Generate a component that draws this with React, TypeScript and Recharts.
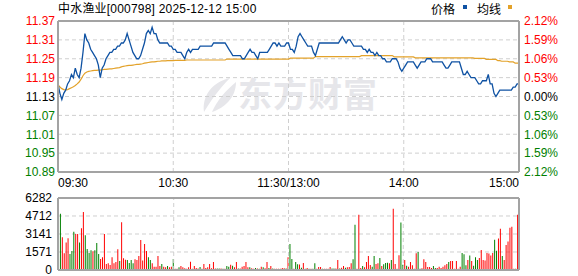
import React from 'react';
import { LineChart, Line, XAxis, YAxis, CartesianGrid, BarChart, Bar, Cell, ReferenceLine } from 'recharts';

const FONT = "'Liberation Sans', Arial, 'Noto Sans CJK SC', sans-serif";
const RED = '#ff0000';
const GREEN = '#008000';
const BORDER = '#a3a3a3';
const GRID = '#cfcfcf';
const PRICE_COLOR = '#0f52a3';
const AVG_COLOR = '#e3a22a';

const title = '中水渔业[000798] 2025-12-12 15:00';
const legendNames = ['价格', '均线'];
const prevClose = 11.13;

const timeTicks = [0, 60, 120, 180, 240];
const timeLabels = ['09:30', '10:30', '11:30/13:00', '14:00', '15:00'];
const priceTicks = [10.89, 10.95, 11.01, 11.07, 11.13, 11.19, 11.25, 11.31, 11.37];
const pctLabels = ['2.12%', '1.59%', '1.06%', '0.53%', '0.00%', '0.53%', '1.06%', '1.59%', '2.12%'];
const volTicks = [0, 1571, 3141, 4712, 6282];

const price = [
  11.17, 11.14, 11.12, 11.14, 11.15, 11.17, 11.18, 11.20, 11.19, 11.22,
  11.20, 11.19, 11.22, 11.27, 11.33, 11.31, 11.30, 11.28, 11.27, 11.26,
  11.25, 11.23, 11.19, 11.22, 11.23, 11.25, 11.26, 11.27, 11.27, 11.28,
  11.28, 11.29, 11.29, 11.30, 11.30, 11.31, 11.33, 11.31, 11.29, 11.27,
  11.26, 11.25, 11.25, 11.26, 11.28, 11.30, 11.33, 11.34, 11.33, 11.35,
  11.33, 11.33, 11.31, 11.30, 11.30, 11.30, 11.30, 11.30, 11.29, 11.29,
  11.28, 11.28, 11.27, 11.27, 11.27, 11.26, 11.25, 11.27, 11.28, 11.27,
  11.28, 11.28, 11.28, 11.28, 11.29, 11.29, 11.29, 11.29, 11.29, 11.29,
  11.29, 11.30, 11.30, 11.30, 11.30, 11.30, 11.30, 11.30, 11.29, 11.28,
  11.27, 11.26, 11.26, 11.26, 11.26, 11.26, 11.25, 11.25, 11.26, 11.27,
  11.28, 11.27, 11.27, 11.26, 11.25, 11.27, 11.27, 11.27, 11.27, 11.27,
  11.28, 11.29, 11.30, 11.30, 11.29, 11.30, 11.29, 11.29, 11.29, 11.30,
  11.30, 11.28, 11.28, 11.27, 11.29, 11.32, 11.33, 11.32, 11.31, 11.30,
  11.29, 11.29, 11.29, 11.27, 11.26, 11.28, 11.30, 11.30, 11.30, 11.30,
  11.30, 11.30, 11.30, 11.30, 11.30, 11.30, 11.30, 11.31, 11.32, 11.31,
  11.30, 11.31, 11.31, 11.30, 11.29, 11.29, 11.29, 11.29, 11.29, 11.28,
  11.28, 11.27, 11.28, 11.27, 11.27, 11.26, 11.27, 11.26, 11.26, 11.25,
  11.25, 11.24, 11.24, 11.24, 11.25, 11.25, 11.25, 11.24, 11.22, 11.21,
  11.22, 11.23, 11.24, 11.24, 11.24, 11.24, 11.23, 11.22, 11.23, 11.24,
  11.24, 11.24, 11.25, 11.25, 11.25, 11.24, 11.24, 11.24, 11.24, 11.24,
  11.24, 11.23, 11.22, 11.22, 11.23, 11.24, 11.24, 11.24, 11.24, 11.24,
  11.22, 11.20, 11.20, 11.21, 11.20, 11.19, 11.19, 11.19, 11.18, 11.17,
  11.17, 11.18, 11.18, 11.18, 11.20, 11.17, 11.17, 11.14, 11.13, 11.14,
  11.15, 11.15, 11.15, 11.15, 11.15, 11.15, 11.15, 11.16, 11.16, 11.17,
  11.17,
];

const avgPrice = [
  11.168, 11.160, 11.155, 11.152, 11.151, 11.152, 11.155, 11.158, 11.161, 11.165,
  11.170, 11.176, 11.185, 11.196, 11.204, 11.208, 11.210, 11.211, 11.212, 11.213,
  11.213, 11.214, 11.214, 11.215, 11.216, 11.216, 11.217, 11.218, 11.218, 11.219,
  11.220, 11.221, 11.222, 11.224, 11.226, 11.227, 11.228, 11.229, 11.229, 11.230,
  11.231, 11.232, 11.232, 11.233, 11.234, 11.236, 11.237, 11.238, 11.239, 11.240,
  11.240, 11.241, 11.242, 11.242, 11.243, 11.243, 11.243, 11.244, 11.244, 11.244,
  11.244, 11.245, 11.245, 11.245, 11.245, 11.245, 11.245, 11.246, 11.246, 11.246,
  11.246, 11.246, 11.246, 11.246, 11.246, 11.246, 11.246, 11.246, 11.246, 11.246,
  11.246, 11.246, 11.246, 11.246, 11.246, 11.246, 11.246, 11.246, 11.249, 11.249,
  11.249, 11.249, 11.249, 11.249, 11.249, 11.249, 11.249, 11.249, 11.249, 11.249,
  11.249, 11.249, 11.249, 11.249, 11.249, 11.249, 11.249, 11.249, 11.249, 11.249,
  11.249, 11.249, 11.249, 11.249, 11.249, 11.249, 11.249, 11.249, 11.249, 11.249,
  11.249, 11.252, 11.252, 11.252, 11.252, 11.252, 11.252, 11.252, 11.252, 11.252,
  11.252, 11.252, 11.252, 11.252, 11.257, 11.257, 11.257, 11.257, 11.257, 11.257,
  11.257, 11.257, 11.257, 11.257, 11.257, 11.257, 11.257, 11.257, 11.257, 11.257,
  11.257, 11.257, 11.257, 11.257, 11.257, 11.257, 11.257, 11.257, 11.260, 11.260,
  11.260, 11.260, 11.260, 11.260, 11.260, 11.260, 11.260, 11.260, 11.260, 11.260,
  11.260, 11.260, 11.260, 11.260, 11.260, 11.256, 11.256, 11.256, 11.256, 11.256,
  11.256, 11.256, 11.256, 11.256, 11.256, 11.256, 11.253, 11.253, 11.253, 11.253,
  11.253, 11.253, 11.253, 11.253, 11.253, 11.253, 11.253, 11.253, 11.253, 11.253,
  11.253, 11.253, 11.253, 11.253, 11.253, 11.253, 11.253, 11.253, 11.253, 11.253,
  11.253, 11.253, 11.253, 11.253, 11.253, 11.253, 11.253, 11.251, 11.251, 11.251,
  11.251, 11.251, 11.251, 11.248, 11.248, 11.248, 11.248, 11.248, 11.248, 11.244,
  11.244, 11.242, 11.242, 11.242, 11.242, 11.240, 11.240, 11.240, 11.236, 11.236,
  11.236,
];

const volume = [
  5900, 4900, 2860, 1460, 2400, 2770, 1400, 1660, 3330, 3150,
  3150, 2400, 3650, 5050, 3040, 1840, 1490, 1720, 1640, 1720,
  2365, 1400, 960, 1110, 3150, 525, 584, 440, 1110, 584,
  700, 1810, 790, 4175, 1020, 905, 875, 613, 875, 584,
  934, 875, 1226, 2628, 818, 2278, 1664, 1110, 875, 584,
  292, 292, 1226, 350, 525, 292, 233, 350, 233, 292,
  960, 100, 100, 230, 350, 230, 150, 100, 230, 730,
  100, 350, 180, 120, 260, 100, 525, 180, 230, 525,
  150, 700, 120, 120, 120, 120, 100, 100, 350, 290,
  467, 380, 230, 700, 120, 120, 290, 350, 700, 230,
  230, 150, 100, 180, 120, 100, 290, 230, 150, 700,
  180, 350, 120, 100, 100, 100, 100, 180, 150, 120,
  1110, 2278, 960, 100, 700, 500, 470, 200, 613, 100,
  175, 100, 100, 100, 584, 100, 263, 263, 100, 100,
  100, 100, 263, 120, 120, 120, 875, 120, 200, 350,
  200, 230, 263, 584, 934, 3940, 100, 4820, 175, 350,
  230, 700, 1226, 438, 290, 1226, 525, 584, 1050, 350,
  500, 613, 640, 584, 875, 5340, 525, 100, 1285, 4150,
  467, 875, 380, 290, 700, 410, 100, 1460, 1577, 100,
  150, 934, 700, 263, 263, 175, 350, 175, 175, 290,
  175, 290, 410, 525, 700, 790, 790, 100, 790, 100,
  290, 1490, 1370, 410, 875, 1255, 790, 380, 1110, 875,
  1050, 1750, 875, 818, 1490, 1430, 1255, 1490, 2630, 1690,
  2745, 3590, 1226, 875, 2190, 2480, 3680, 3770, 100, 100,
  4820,
];

// r = up (red), g = down (green), one letter per minute
const direction = [
  'rgrrrrgggr', 'rgrrggggrg', 'ggrrrrrrrr', 'rrgrrrgggg', 'rrrrrrrggr',
  'rrrrgrrgrr', 'grrgrrrrrr', 'rrrrgrrrrr', 'rrrggrgrgg', 'rgrrgrrrrr',
  'grrgrgrgrr', 'grgrrrrrrg', 'rggrggrgrg', 'rgrggrrrgr', 'rrrggrrgrr',
  'grrrggrrrg', 'rrrrggrrgr', 'gggrgrrrrg', 'grgrrrgrgg', 'rrrrrrggrr',
  'rrrrgrrrrr', 'rgggrgrggg', 'rrrrrrrrgg', 'rrgrrrrrrg', 'r',
].join('');

const rows = price.map((p, i) => ({
  i,
  price: p,
  avg: avgPrice[i],
  vol: volume[i],
  dir: direction[i] || 'r',
}));

const priceColor = (v: number) => (v > prevClose + 1e-9 ? RED : v < prevClose - 1e-9 ? GREEN : '#000');

const closestIdx = (arr: number[], v: number) => {
  let best = 0;
  arr.forEach((a, k) => {
    if (Math.abs(a - v) < Math.abs(arr[best] - v)) best = k;
  });
  return best;
};

function LeftTick(props: any) {
  const { x, y, payload } = props;
  const v = payload.value as number;
  return (
    <text x={x} y={y} dy="0.36em" textAnchor="end" fill={priceColor(v)} fontSize={12} fontFamily={FONT}>
      {v.toFixed(2)}
    </text>
  );
}

function RightTick(props: any) {
  const { x, y, payload } = props;
  const v = payload.value as number;
  return (
    <text x={x} y={y} dy="0.36em" textAnchor="start" fill={priceColor(v)} fontSize={12} fontFamily={FONT}>
      {pctLabels[closestIdx(priceTicks, v)]}
    </text>
  );
}

function TimeTick(props: any) {
  const { x, y, payload } = props;
  const k = closestIdx(timeTicks, payload.value);
  const anchor = k === 0 ? 'start' : k === timeTicks.length - 1 ? 'end' : 'middle';
  return (
    <text x={x} y={y} dy="0.71em" textAnchor={anchor} fill="#000" fontSize={12} fontFamily={FONT}>
      {timeLabels[k]}
    </text>
  );
}

function VolTick(props: any) {
  const { x, y, payload } = props;
  return (
    <text x={x} y={y} dy="0.36em" textAnchor="end" fill="#000" fontSize={12} fontFamily={FONT}>
      {String(payload.value)}
    </text>
  );
}

export default function App() {
  return (
    <div style={{ position: 'absolute', left: 0, top: 0, width: 578, height: 276, background: '#fff', overflow: 'hidden', fontFamily: FONT }}>
      {/* watermark */}
      <svg style={{ position: 'absolute', left: 200, top: 76 }} width={40} height={38}>
        <path d="M30 2 C 12 6, 2 20, 4 36 C 10 26, 18 14, 30 2 Z" fill="#e6e6ea" />
        <path d="M36 6 C 26 14, 16 26, 12 36 C 24 32, 36 22, 36 6 Z" fill="#e6e6ea" />
      </svg>
      <div style={{ position: 'absolute', left: 238, top: 73, fontSize: 34, fontWeight: 700, color: '#e6e6ea', letterSpacing: 1, lineHeight: '40px', fontFamily: "'Noto Sans CJK SC', sans-serif", whiteSpace: 'nowrap' }}>
        东方财富
      </div>

      {/* title + legend */}
      <div style={{ position: 'absolute', left: 58, top: 1, fontSize: 12, lineHeight: '16px', letterSpacing: 0.2, color: '#000', whiteSpace: 'nowrap', fontFamily: "'Liberation Sans', 'Noto Sans CJK SC', sans-serif" }}>
        {title}
      </div>
      <div style={{ position: 'absolute', left: 431, top: 1, fontSize: 12, lineHeight: '16px', color: '#000', fontFamily: "'Noto Sans CJK SC', sans-serif" }}>{legendNames[0]}</div>
      <div style={{ position: 'absolute', left: 463, top: 5, width: 4, height: 4, background: PRICE_COLOR }} />
      <div style={{ position: 'absolute', left: 477, top: 1, fontSize: 12, lineHeight: '16px', color: '#000', fontFamily: "'Noto Sans CJK SC', sans-serif" }}>{legendNames[1]}</div>
      <div style={{ position: 'absolute', left: 508, top: 5, width: 4, height: 4, background: AVG_COLOR }} />

      {/* price chart */}
      <div style={{ position: 'absolute', left: 0, top: 0 }}>
        <LineChart width={578} height={195} data={rows} margin={{ top: 21, right: 0, bottom: 0, left: 0 }}>
          <CartesianGrid yAxisId="left" stroke={GRID} strokeDasharray="4 3" />
          <XAxis
            dataKey="i"
            type="number"
            domain={[0, 240]}
            ticks={timeTicks}
            interval={0}
            tickLine={false}
            tickSize={0}
            tickMargin={6}
            height={23}
            axisLine={{ stroke: BORDER, strokeWidth: 2 }}
            tick={<TimeTick />}
            allowDataOverflow
          />
          <YAxis
            yAxisId="left"
            width={58}
            domain={[10.89, 11.37]}
            ticks={priceTicks}
            interval={0}
            tickLine={false}
            tickSize={0}
            tickMargin={3}
            axisLine={{ stroke: BORDER, strokeWidth: 2 }}
            tick={<LeftTick />}
            allowDataOverflow
          />
          <YAxis
            yAxisId="right"
            orientation="right"
            width={59}
            domain={[10.89, 11.37]}
            ticks={priceTicks}
            interval={0}
            tickLine={false}
            tickSize={0}
            tickMargin={5}
            axisLine={{ stroke: BORDER, strokeWidth: 2 }}
            tick={<RightTick />}
            allowDataOverflow
          />
          <ReferenceLine yAxisId="left" y={11.37} stroke={BORDER} strokeWidth={2} />
          <Line yAxisId="right" type="linear" dataKey="avg" stroke={AVG_COLOR} strokeWidth={1.2} dot={false} isAnimationActive={false} />
          <Line yAxisId="left" type="linear" dataKey="price" stroke={PRICE_COLOR} strokeWidth={1.3} dot={false} isAnimationActive={false} />
        </LineChart>
      </div>

      {/* volume chart */}
      <div style={{ position: 'absolute', left: 0, top: 190 }}>
        <BarChart width={578} height={86} data={rows} margin={{ top: 8, right: 0, bottom: 0, left: 0 }}>
          <CartesianGrid yAxisId="vl" vertical={false} stroke={GRID} strokeDasharray="4 3" />
          <XAxis dataKey="i" type="category" tick={false} tickLine={false} height={6} axisLine={{ stroke: BORDER, strokeWidth: 2 }} />
          <YAxis
            yAxisId="vl"
            width={58}
            domain={[0, 6282]}
            ticks={volTicks}
            interval={0}
            tickLine={false}
            tickSize={0}
            tickMargin={6}
            axisLine={{ stroke: BORDER, strokeWidth: 2 }}
            tick={<VolTick />}
            allowDataOverflow
          />
          <YAxis yAxisId="vr" orientation="right" width={59} domain={[0, 6282]} tick={false} tickLine={false} axisLine={{ stroke: BORDER, strokeWidth: 2 }} />
          <ReferenceLine yAxisId="vl" x={60} stroke={GRID} strokeDasharray="4 3" />
          <ReferenceLine yAxisId="vl" x={120} stroke={GRID} strokeDasharray="4 3" />
          <ReferenceLine yAxisId="vl" x={180} stroke={GRID} strokeDasharray="4 3" />
          <ReferenceLine yAxisId="vl" y={6282} stroke={BORDER} strokeWidth={2} />
          <Bar yAxisId="vl" dataKey="vol" barSize={1} isAnimationActive={false}>
            {rows.map((r) => (
              <Cell key={r.i} fill={r.dir === 'g' ? GREEN : RED} />
            ))}
          </Bar>
        </BarChart>
      </div>
    </div>
  );
}
